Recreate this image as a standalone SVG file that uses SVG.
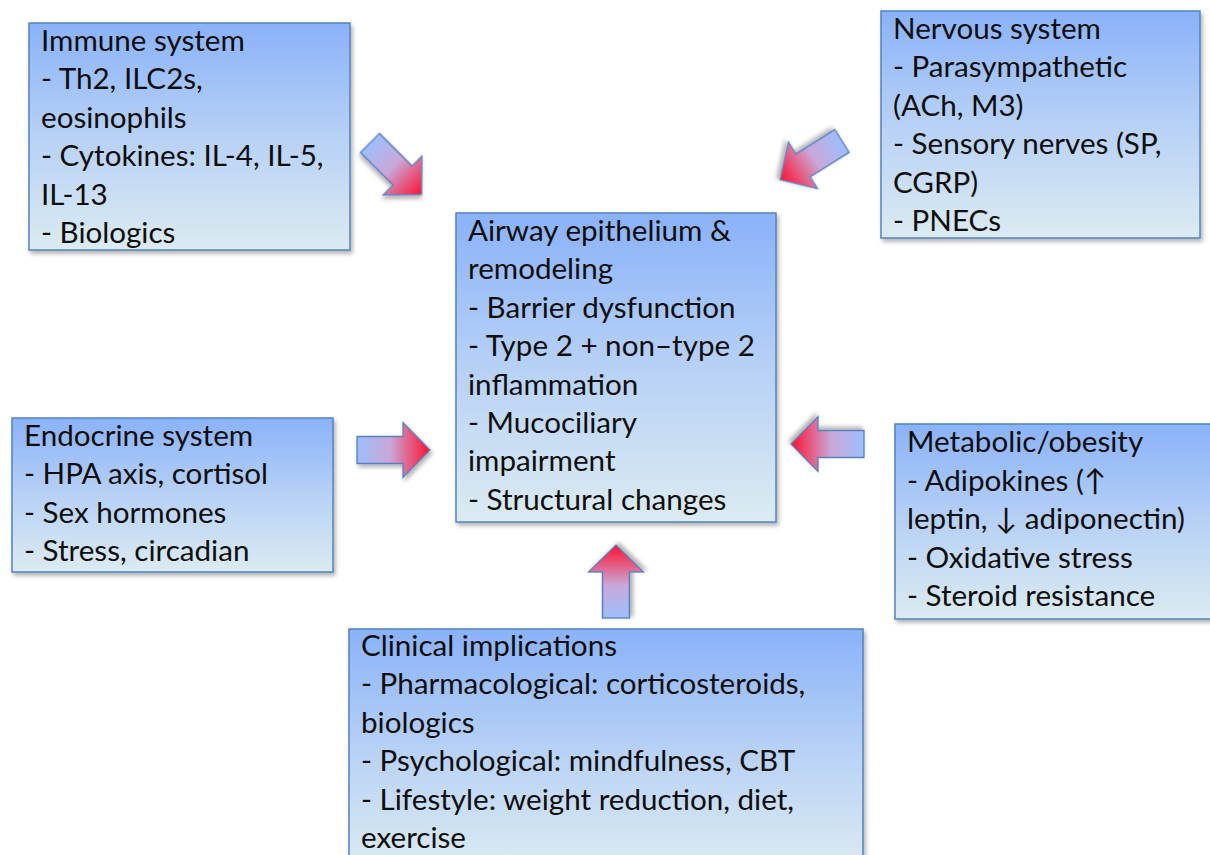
<svg xmlns="http://www.w3.org/2000/svg" width="1210" height="855" viewBox="0 0 1210 855">
<defs>
<linearGradient id="boxg" x1="0" y1="0" x2="0" y2="1">
<stop offset="0" stop-color="#8ab2f9"/>
<stop offset="0.5" stop-color="#b7d1f6"/>
<stop offset="1" stop-color="#dcebf1"/>
</linearGradient>
<linearGradient id="arrg" x1="0" y1="0" x2="1" y2="0">
<stop offset="0" stop-color="#9dbefc"/>
<stop offset="0.45" stop-color="#c9a8d8"/>
<stop offset="1" stop-color="#ff1030"/>
</linearGradient>
<filter id="sh" x="-10%" y="-10%" width="130%" height="130%">
<feDropShadow dx="2" dy="3" stdDeviation="2" flood-color="#000" flood-opacity="0.3"/>
</filter>
<path id="arrow" d="M0,-13.5 L46,-13.5 L46,-27.5 L73,0 L46,27.5 L46,13.5 L0,13.5 Z"/>
</defs>
<style>
.box{fill:url(#boxg);stroke:#5382c0;stroke-width:1.5;filter:url(#sh)}
.t{font-family:Lato,"Open Sans","Liberation Sans",sans-serif;font-size:29.6px;fill:#0e0e0e}
.arr{fill:url(#arrg);stroke:#5a80bc;stroke-width:1.3;filter:url(#sh)}
</style>
<rect width="1210" height="855" fill="#ffffff"/>
<g id="connectors">
<use href="#arrow" class="arr" transform="translate(370,143) rotate(45)"/>
<use href="#arrow" class="arr" transform="translate(842,141) rotate(148)"/>
<use href="#arrow" class="arr" transform="translate(357,450)"/>
<use href="#arrow" class="arr" transform="translate(864,444) rotate(180)"/>
<use href="#arrow" class="arr" transform="translate(616,618) rotate(-90)"/>
</g>
<g id="immune">
<rect class="box" x="29" y="23" width="321" height="227"/>
<text class="t" x="41" y="51">Immune system</text>
<text class="t" x="41" y="89.4">- Th2, ILC2s,</text>
<text class="t" x="41" y="127.8">eosinophils</text>
<text class="t" x="41" y="166.2">- Cytokines: IL-4, IL-5,</text>
<text class="t" x="41" y="204.6">IL-13</text>
<text class="t" x="41" y="243">- Biologics</text>
</g>
<g id="nervous">
<rect class="box" x="881" y="11" width="319" height="227"/>
<text class="t" x="893" y="39">Nervous system</text>
<text class="t" x="893" y="77.4">- Parasympathetic</text>
<text class="t" x="893" y="115.8">(ACh, M3)</text>
<text class="t" x="893" y="154.2">- Sensory nerves (SP,</text>
<text class="t" x="893" y="192.6">CGRP)</text>
<text class="t" x="893" y="231">- PNECs</text>
</g>
<g id="airway">
<rect class="box" x="456" y="213" width="320" height="309"/>
<text class="t" x="468" y="241">Airway epithelium &amp;</text>
<text class="t" x="468" y="279.4">remodeling</text>
<text class="t" x="468" y="317.8">- Barrier dysfunction</text>
<text class="t" x="468" y="356.2">- Type 2 + non–type 2</text>
<text class="t" x="468" y="394.6">inflammation</text>
<text class="t" x="468" y="433">- Mucociliary</text>
<text class="t" x="468" y="471.4">impairment</text>
<text class="t" x="468" y="509.8">- Structural changes</text>
</g>
<g id="endocrine">
<rect class="box" x="12" y="418" width="321" height="154"/>
<text class="t" x="24" y="446">Endocrine system</text>
<text class="t" x="24" y="484.4">- HPA axis, cortisol</text>
<text class="t" x="24" y="522.8">- Sex hormones</text>
<text class="t" x="24" y="561.2">- Stress, circadian</text>
</g>
<g id="metabolic">
<rect class="box" x="895" y="424" width="330" height="195"/>
<text class="t" x="907" y="452">Metabolic/obesity</text>
<text class="t" x="907" y="490.6">- Adipokines (↑</text>
<text class="t" x="907" y="529.2">leptin, ↓ adiponectin)</text>
<text class="t" x="907" y="567.8">- Oxidative stress</text>
<text class="t" x="907" y="606.4">- Steroid resistance</text>
</g>
<g id="clinical">
<rect class="box" x="349" y="629" width="514" height="240"/>
<text class="t" x="361" y="656">Clinical implications</text>
<text class="t" x="361" y="694.4">- Pharmacological: corticosteroids,</text>
<text class="t" x="361" y="732.8">biologics</text>
<text class="t" x="361" y="771.2">- Psychological: mindfulness, CBT</text>
<text class="t" x="361" y="809.6">- Lifestyle: weight reduction, diet,</text>
<text class="t" x="361" y="848">exercise</text>
</g>
</svg>
